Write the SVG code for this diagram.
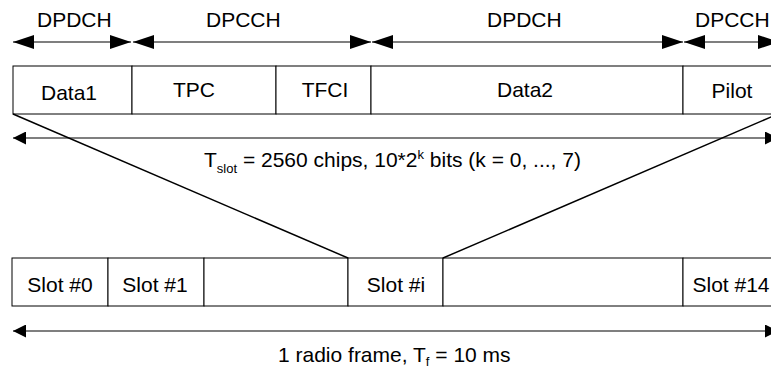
<svg xmlns="http://www.w3.org/2000/svg" width="771" height="371" viewBox="0 0 771 371">
  <style>
    .cell { fill: #fff; stroke: #000; stroke-width: 1; }
    .lbl { font-family: "Liberation Sans", Arial, sans-serif; font-size: 21px; fill: #000; }
    .mid { text-anchor: middle; }
    .dim { stroke: #000; stroke-width: 1.2; fill: none; }
    .fan { stroke: #000; stroke-width: 1.5; fill: none; }
  </style>
  <defs>
    <marker id="headBig" viewBox="0 0 21 14" refX="21" refY="7" markerWidth="21" markerHeight="14" markerUnits="userSpaceOnUse" orient="auto-start-reverse">
      <path d="M0,0 L21,7 L0,14 Z" fill="#000"/>
    </marker>
    <marker id="headSmall" viewBox="0 0 13 13" refX="13" refY="6.5" markerWidth="13" markerHeight="13" markerUnits="userSpaceOnUse" orient="auto-start-reverse">
      <path d="M0,0 L13,6.5 L0,13 Z" fill="#000"/>
    </marker>
  </defs>

  <rect width="771" height="371" fill="#fff"/>

  <!-- slot fields -->
  <g id="field-data1"><rect class="cell" x="13" y="66" width="119" height="48"/><text class="lbl mid" x="69" y="100">Data1</text></g>
  <g id="field-tpc"><rect class="cell" x="132" y="66" width="144" height="48"/><text class="lbl mid" x="194" y="97">TPC</text></g>
  <g id="field-tfci"><rect class="cell" x="276" y="66" width="95" height="48"/><text class="lbl mid" x="325" y="97">TFCI</text></g>
  <g id="field-data2"><rect class="cell" x="371" y="66" width="312" height="48"/><text class="lbl mid" x="525" y="97">Data2</text></g>
  <g id="field-pilot"><rect class="cell" x="683" y="66" width="95" height="48"/><text class="lbl mid" x="732" y="98">Pilot</text></g>

  <!-- radio frame slots -->
  <g id="slot-0"><rect class="cell" x="12" y="258" width="96" height="48"/><text class="lbl mid" x="60" y="292">Slot #0</text></g>
  <g id="slot-1"><rect class="cell" x="108" y="258" width="96" height="48"/><text class="lbl mid" x="155" y="292">Slot #1</text></g>
  <g id="slot-gap1"><rect class="cell" x="204" y="258" width="144" height="48"/></g>
  <g id="slot-i"><rect class="cell" x="348" y="258" width="95" height="48"/><text class="lbl mid" x="396" y="292">Slot #i</text></g>
  <g id="slot-gap2"><rect class="cell" x="443" y="258" width="240" height="48"/></g>
  <g id="slot-14"><rect class="cell" x="683" y="258" width="95" height="48"/><text class="lbl mid" x="731" y="292">Slot #14</text></g>

  <!-- connectors -->
  <g id="connectors">
    <line class="dim" x1="13" y1="42" x2="131" y2="42" marker-start="url(#headBig)" marker-end="url(#headBig)"/>
    <line class="dim" x1="133" y1="42" x2="371" y2="42" marker-start="url(#headBig)" marker-end="url(#headBig)"/>
    <line class="dim" x1="372" y1="42" x2="683" y2="42" marker-start="url(#headBig)" marker-end="url(#headBig)"/>
    <line class="dim" x1="684" y1="42" x2="779" y2="42" marker-start="url(#headBig)" marker-end="url(#headBig)"/>

    <line class="dim" x1="13" y1="138" x2="778" y2="138" marker-start="url(#headSmall)" marker-end="url(#headSmall)"/>
    <line class="dim" x1="13" y1="331" x2="778" y2="331" marker-start="url(#headSmall)" marker-end="url(#headSmall)"/>

    <line class="fan" x1="13" y1="114" x2="348" y2="258"/>
    <line class="fan" x1="443" y1="258" x2="778" y2="114"/>
  </g>

  <!-- channel labels -->
  <g id="channel-labels">
    <text class="lbl" x="37" y="27">DPDCH</text>
    <text class="lbl" x="206" y="27">DPCCH</text>
    <text class="lbl" x="487" y="27">DPDCH</text>
    <text class="lbl" x="695" y="27">DPCCH</text>
  </g>

  <!-- timing labels -->
  <text class="lbl" x="204" y="167">T<tspan font-size="13" dy="6">slot</tspan><tspan dy="-6"> = 2560 chips, 10*2</tspan><tspan font-size="13" dy="-8">k</tspan><tspan dy="8"> bits (k = 0, ..., 7)</tspan></text>
  <text class="lbl" x="278" y="362">1 radio frame, T<tspan font-size="13" dy="4">f</tspan><tspan dy="-4"> = 10 ms</tspan></text>
</svg>
